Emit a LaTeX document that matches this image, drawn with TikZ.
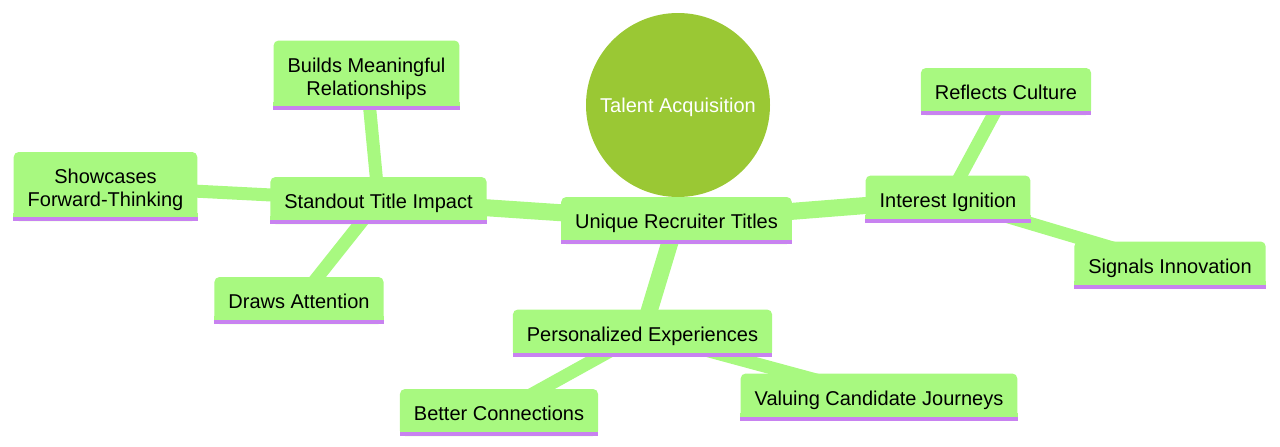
\documentclass[tikz,border=0pt]{standalone}
\usepackage{fontspec}
\setmainfont{Liberation Sans}
\usetikzlibrary{backgrounds}
\definecolor{boxg}{RGB}{168,249,128}
\definecolor{stripe}{RGB}{200,130,240}
\definecolor{rootg}{RGB}{154,200,52}
\begin{document}
\begin{tikzpicture}[x=1pt,y=-1pt,
  box/.style={rectangle, rounded corners=5pt, fill=boxg, inner xsep=14pt, inner ysep=0pt,
    minimum height=47pt, text height=16pt, text depth=0pt, align=center,
    font=\fontsize{20}{23}\selectfont},
  twoline/.style={minimum height=69pt, text height=40pt, text depth=0pt},
  edgeA/.style={draw=boxg, line width=17pt},
  edgeB/.style={draw=boxg, line width=13pt},
  rootnode/.style={circle, fill=rootg, minimum size=184pt, inner sep=0pt, text=white,
    text height=14pt, text depth=-2pt, font=\fontsize{20}{23}\selectfont}
]
\useasboundingbox (0,0) rectangle (1280,447);

\node[rootnode] (talent) at (678,105) {Talent Acquisition};

\node[box] (unique) at (676.5,220.5) {Unique Recruiter Titles};
\node[box] (standout) at (378.5,200.5) {Standout Title Impact};
\node[box,twoline] (showcases) at (105.5,186.5) {Showcases\\Forward-Thinking};
\node[box,twoline] (builds) at (366.5,75) {Builds Meaningful\\Relationships};
\node[box] (draws) at (299,300.5) {Draws Attention};
\node[box] (interest) at (948,199) {Interest Ignition};
\node[box] (reflects) at (1006,91.5) {Reflects Culture};
\node[box] (signals) at (1170,265) {Signals Innovation};
\node[box] (personal) at (642.5,333) {Personalized Experiences};
\node[box] (better) at (499,412.5) {Better Connections};
\node[box] (valuing) at (879,397) {Valuing Candidate Journeys};

\foreach \n in {unique,standout,showcases,builds,draws,interest,reflects,signals,personal,better,valuing}{
  \fill[boxg] ([yshift=8pt]\n.south west) rectangle (\n.south east);
  \fill[stripe] ([yshift=4pt]\n.south west) rectangle (\n.south east);
}

\begin{pgfonlayer}{background}
\path[edgeA] (unique.center) -- (standout.center);
\path[edgeA] (unique.center) -- (interest.center);
\path[edgeA] (unique.center) -- (personal.center);
\path[edgeB] (standout.center) -- (showcases.center);
\path[edgeB] (standout.center) -- (builds.center);
\path[edgeB] (standout.center) -- (draws.center);
\path[edgeB] (interest.center) -- (reflects.center);
\path[edgeB] (interest.center) -- (signals.center);
\path[edgeB] (personal.center) -- (better.center);
\path[edgeB] (personal.center) -- (valuing.center);
\end{pgfonlayer}
\end{tikzpicture}
\end{document}
